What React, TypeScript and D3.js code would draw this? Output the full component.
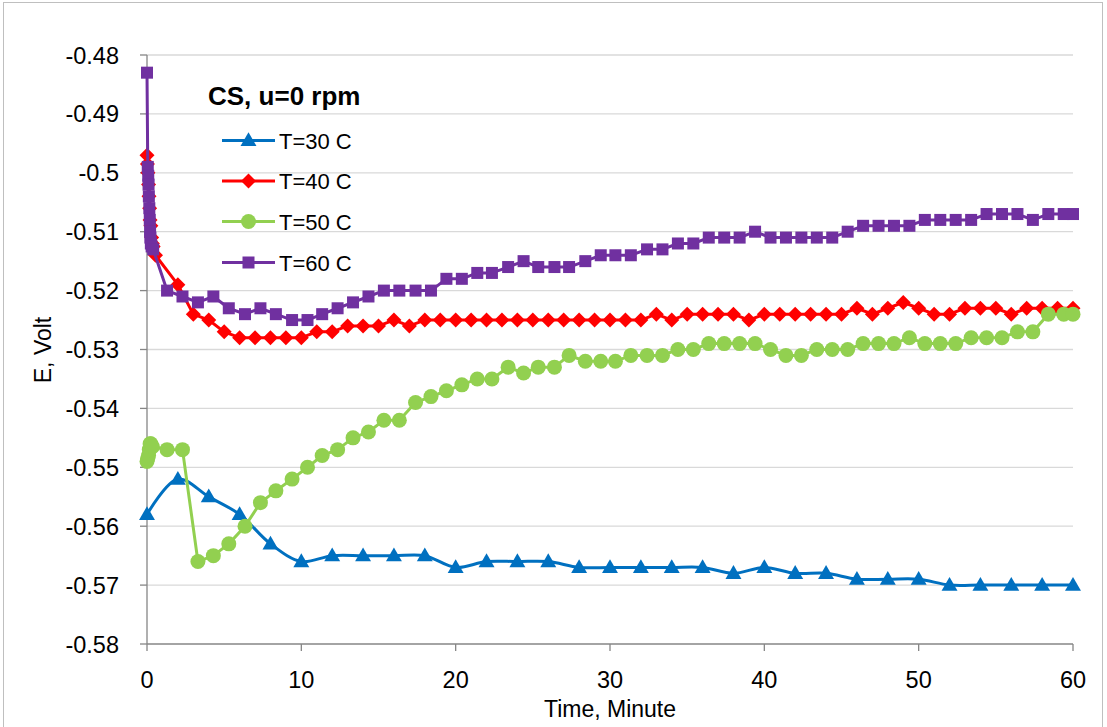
import React from "react";
import * as d3 from "d3";

// ---- Data ----
const t30 = [0, 2, 4, 6, 8, 10, 12, 14, 16, 18, 20, 22, 24, 26, 28, 30, 32, 34, 36, 38, 40, 42, 44, 46, 48, 50, 52, 54, 56, 58, 60];
const e30 = [-0.558, -0.552, -0.555, -0.558, -0.563, -0.566, -0.565, -0.565, -0.565, -0.565, -0.567, -0.566, -0.566, -0.566, -0.567, -0.567, -0.567, -0.567, -0.567, -0.568, -0.567, -0.568, -0.568, -0.569, -0.569, -0.569, -0.570, -0.570, -0.570, -0.570, -0.570];

const t40 = [0, 0.03, 0.06, 0.1, 0.13, 0.17, 0.2, 0.25, 0.3, 0.35, 0.4, 0.55,
  2, 3, 4, 5, 6, 7, 8, 9, 10, 11, 12, 13, 14, 15, 16, 17, 18, 19, 20, 21, 22, 23, 24, 25, 26, 27, 28, 29, 30,
  31, 32, 33, 34, 35, 36, 37, 38, 39, 40, 41, 42, 43, 44, 45, 46, 47, 48, 49, 50, 51, 52, 53, 54, 55, 56, 57, 58, 59, 60];
const e40 = [-0.497, -0.4985, -0.5, -0.502, -0.504, -0.506, -0.508, -0.509, -0.511, -0.512, -0.5125, -0.514,
  -0.519, -0.524, -0.525, -0.527, -0.528, -0.528, -0.528, -0.528, -0.528, -0.527, -0.527, -0.526, -0.526, -0.526, -0.525, -0.526, -0.525, -0.525, -0.525,
  -0.525, -0.525, -0.525, -0.525, -0.525, -0.525, -0.525, -0.525, -0.525, -0.525, -0.525, -0.525, -0.524, -0.525, -0.524, -0.524, -0.524, -0.524, -0.525,
  -0.524, -0.524, -0.524, -0.524, -0.524, -0.524, -0.523, -0.524, -0.523, -0.522, -0.523, -0.524, -0.524, -0.523, -0.523, -0.523, -0.524, -0.523, -0.523, -0.523, -0.523];

const t50 = [0, 0.05, 0.1, 0.15, 0.2, 0.25, 0.35,
  1.3, 2.3, 3.3, 4.3, 5.3, 6.35, 7.35, 8.35, 9.4, 10.4, 11.35, 12.35, 13.35, 14.35, 15.35, 16.35, 17.4, 18.4, 19.4, 20.4,
  21.4, 22.35, 23.4, 24.4, 25.35, 26.4, 27.35, 28.4, 29.4, 30.35, 31.35, 32.4, 33.4, 34.4, 35.4, 36.4, 37.4, 38.4, 39.4, 40.4,
  41.4, 42.4, 43.4, 44.4, 45.4, 46.4, 47.4, 48.4, 49.4, 50.4, 51.4, 52.4, 53.4, 54.4, 55.4, 56.4, 57.4, 58.4, 59.4, 60];
const e50 = [-0.549, -0.5485, -0.548, -0.547, -0.546, -0.546, -0.5465,
  -0.547, -0.547, -0.566, -0.565, -0.563, -0.56, -0.556, -0.554, -0.552, -0.55, -0.548, -0.547, -0.545, -0.544, -0.542, -0.542, -0.539, -0.538, -0.537, -0.536,
  -0.535, -0.535, -0.533, -0.534, -0.533, -0.533, -0.531, -0.532, -0.532, -0.532, -0.531, -0.531, -0.531, -0.53, -0.53, -0.529, -0.529, -0.529, -0.529, -0.53,
  -0.531, -0.531, -0.53, -0.53, -0.53, -0.529, -0.529, -0.529, -0.528, -0.529, -0.529, -0.529, -0.528, -0.528, -0.528, -0.527, -0.527, -0.524, -0.524, -0.524];

const t60 = [0, 0.05, 0.08, 0.1, 0.12, 0.15, 0.18, 0.2, 0.22, 0.25, 0.3, 0.4,
  1.3, 2.3, 3.3, 4.3, 5.3, 6.35, 7.35, 8.35, 9.4, 10.4, 11.35, 12.35, 13.35, 14.35, 15.35, 16.35, 17.4, 18.4, 19.4, 20.4,
  21.4, 22.35, 23.4, 24.4, 25.35, 26.4, 27.35, 28.4, 29.4, 30.35, 31.35, 32.4, 33.4, 34.4, 35.4, 36.4, 37.4, 38.4, 39.4, 40.4,
  41.4, 42.4, 43.4, 44.4, 45.4, 46.4, 47.4, 48.4, 49.4, 50.4, 51.4, 52.4, 53.4, 54.4, 55.4, 56.4, 57.4, 58.4, 59.4, 60];
const e60 = [-0.483, -0.499, -0.5005, -0.502, -0.504, -0.506, -0.508, -0.51, -0.511, -0.512, -0.5125, -0.513,
  -0.52, -0.521, -0.522, -0.521, -0.523, -0.524, -0.523, -0.524, -0.525, -0.525, -0.524, -0.523, -0.522, -0.521, -0.52, -0.52, -0.52, -0.52, -0.518, -0.518,
  -0.517, -0.517, -0.516, -0.515, -0.516, -0.516, -0.516, -0.515, -0.514, -0.514, -0.514, -0.513, -0.513, -0.512, -0.512, -0.511, -0.511, -0.511, -0.51, -0.511,
  -0.511, -0.511, -0.511, -0.511, -0.51, -0.509, -0.509, -0.509, -0.509, -0.508, -0.508, -0.508, -0.508, -0.507, -0.507, -0.507, -0.508, -0.507, -0.507, -0.507];

const xTicks = [0, 10, 20, 30, 40, 50, 60];
const yTicks = [-0.48, -0.49, -0.5, -0.51, -0.52, -0.53, -0.54, -0.55, -0.56, -0.57, -0.58];
const yTickLabels = ["-0.48", "-0.49", "-0.5", "-0.51", "-0.52", "-0.53", "-0.54", "-0.55", "-0.56", "-0.57", "-0.58"];
const seriesNames = ["T=30 C", "T=40 C", "T=50 C", "T=60 C"];
const chartTitle = "CS, u=0 rpm";
const xTitle = "Time, Minute";
const yTitle = "E, Volt";

// ---- Layout ----
const W = 1107, H = 727;
const X0 = 147, X1 = 1073, Y0 = 644, Y1 = 55;
const FONT = "'Liberation Sans', Arial, sans-serif";

const colors = ["#0070C0", "#FF0000", "#92D050", "#7030A0"];
const shapes = ["triangle", "diamond", "circle", "square"];

function Marker({ shape, x, y, color, scale = 1 }: any) {
  if (shape === "circle") return <circle cx={x} cy={y} r={7.5 * scale} fill={color} />;
  if (shape === "square") {
    const s = 6 * scale;
    return <rect x={x - s} y={y - s} width={2 * s} height={2 * s} fill={color} />;
  }
  if (shape === "diamond") {
    const s = 7.5 * scale;
    return <path d={`M${x},${y - s}L${x + s},${y}L${x},${y + s}L${x - s},${y}Z`} fill={color} />;
  }
  const p = d3.symbol().type(d3.symbolTriangle).size(110 * scale * scale)();
  return <path d={p as string} transform={`translate(${x},${y + 1})`} fill={color} />;
}

export default function App() {
  const x = d3.scaleLinear().domain([0, 60]).range([X0, X1]);
  const y = d3.scaleLinear().domain([-0.58, -0.48]).range([Y0, Y1]);

  const series = [
    { t: t30, e: e30, smooth: true },
    { t: t40, e: e40, smooth: false },
    { t: t50, e: e50, smooth: false },
    { t: t60, e: e60, smooth: false },
  ];

  const legendY = [140.5, 181, 221.5, 262.5];

  return (
    <svg width={W} height={H} style={{ position: "absolute", left: 0, top: 0, background: "#fff" }} fontFamily={FONT}>
      <rect x={0} y={0} width={W} height={H} fill="#fff" />
      <rect x={3.5} y={2.5} width={1099} height={740} fill="none" stroke="#bfbfbf" strokeWidth={1} />
      {/* gridlines */}
      {yTicks.filter((v) => v !== -0.58).map((v) => (
        <line key={v} x1={X0} x2={X1} y1={y(v)} y2={y(v)} stroke="#d9d9d9" strokeWidth={1.3} />
      ))}
      {/* axes */}
      <line x1={X0} x2={X0} y1={Y1} y2={Y0} stroke="#868686" strokeWidth={1.3} />
      <line x1={X0} x2={X1} y1={Y0} y2={Y0} stroke="#868686" strokeWidth={1.3} />
      {yTicks.map((v, i) => (
        <g key={"yt" + v}>
          <line x1={X0 - 7} x2={X0} y1={y(v)} y2={y(v)} stroke="#868686" strokeWidth={1.3} />
          <text x={119} y={y(v) + 8.5} textAnchor="end" fontSize={23.5} fill="#000">{yTickLabels[i]}</text>
        </g>
      ))}
      {xTicks.map((v) => (
        <g key={"xt" + v}>
          <line x1={x(v)} x2={x(v)} y1={Y0} y2={Y0 + 7} stroke="#868686" strokeWidth={1.3} />
          <text x={x(v)} y={688} textAnchor="middle" fontSize={23.5} fill="#000">{v}</text>
        </g>
      ))}
      <text x={(X0 + X1) / 2} y={717} textAnchor="middle" fontSize={23} fill="#000">{xTitle}</text>
      <text transform={`translate(51,350) rotate(-90)`} textAnchor="middle" fontSize={23} fill="#000">{yTitle}</text>

      {/* series */}
      {series.map((s, i) => {
        const pts: [number, number][] = s.t.map((tv, k) => [x(tv), y(s.e[k])]);
        const line = d3.line().curve(s.smooth ? d3.curveCatmullRom.alpha(0.5) : d3.curveLinear);
        return (
          <g key={"s" + i}>
            <path d={line(pts) as string} fill="none" stroke={colors[i]} strokeWidth={3} strokeLinejoin="round" />
            {pts.map((p, k) => (
              <Marker key={k} shape={shapes[i]} x={p[0]} y={p[1]} color={colors[i]} />
            ))}
          </g>
        );
      })}

      {/* legend */}
      <text x={208} y={105} fontSize={26} fontWeight="bold" fill="#000">{chartTitle}</text>
      {seriesNames.map((n, i) => (
        <g key={"lg" + i}>
          <line x1={222} x2={275} y1={legendY[i]} y2={legendY[i]} stroke={colors[i]} strokeWidth={3} />
          <Marker shape={shapes[i]} x={248.5} y={legendY[i]} color={colors[i]} />
          <text x={279} y={legendY[i] + 8} fontSize={22} fill="#000">{n}</text>
        </g>
      ))}
    </svg>
  );
}
